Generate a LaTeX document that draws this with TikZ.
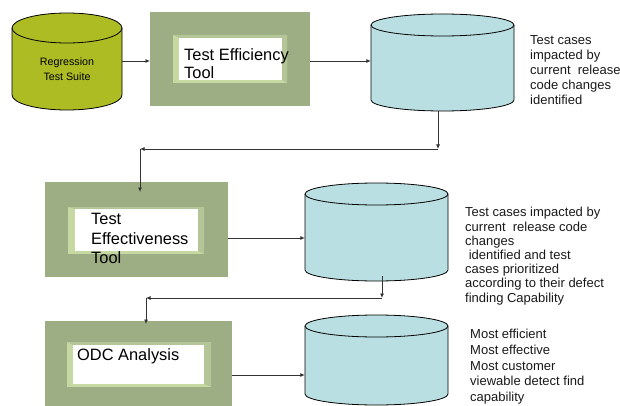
\documentclass[tikz,border=0pt]{standalone}
\usepackage{fontspec}
\setmainfont{Liberation Sans}
\usetikzlibrary{arrows.meta,calc}
\definecolor{olivecyl}{HTML}{AEBC24}
\definecolor{cyancyl}{HTML}{B9DFE3}
\definecolor{boxgreen}{HTML}{9EAE84}
\definecolor{bevlight}{HTML}{C6D9A3}
\definecolor{bevmid}{HTML}{B4C698}
\definecolor{linegray}{HTML}{333333}
\newcommand\mycyl[7]{%
  \pgfmathsetmacro\cylrx{(#3-#2)/2}%
  \pgfmathsetmacro\cylcx{(#3+#2)/2}%
  \pgfmathsetmacro\cylw{#3-#2}%
  \pgfmathsetmacro\cylh{#5-#4+2*#6}%
  \pgfmathsetmacro\cylcy{(#4+#5)/2}%
  \fill[#7] (#2,-#4) -- (#2,-#5) arc[start angle=180,end angle=360,x radius=\cylrx pt,y radius=#6pt] -- (#3,-#4) arc[start angle=0,end angle=180,x radius=\cylrx pt,y radius=#6pt] -- cycle;
  \draw[cylline] (#2,-#4) -- (#2,-#5) arc[start angle=180,end angle=360,x radius=\cylrx pt,y radius=#6pt] -- (#3,-#4);
  \draw[cylline,fill=#7] (\cylcx,-#4) ellipse[x radius=\cylrx pt,y radius=#6pt];
  \node[inner sep=0,minimum width=\cylw pt,minimum height=\cylh pt] (#1) at (\cylcx,-\cylcy) {};
}
\newcommand\mybevel[8]{%
  \fill[bevlight] (#1,-#2) rectangle (#3,-#4);
  \fill[bevmid] (#1,-#2) -- (#3,-#2) -- (#7,-#6) -- (#5,-#6) -- cycle;
  \fill[bevmid] (#3,-#2) -- (#3,-#4) -- (#7,-#8) -- (#7,-#6) -- cycle;
  \fill[white] (#5,-#6) rectangle (#7,-#8);
}
\tikzset{
  cylline/.style={draw=black,line width=0.8pt},
  outerbox/.style={fill=boxgreen,inner sep=0,anchor=north west},
  conn/.style={draw=linegray,line width=0.8pt,-{Latex[length=4.5pt,width=4pt]}},
  tooltext/.style={anchor=north west,inner sep=0,align=left,text=black},
  sidetext/.style={anchor=north west,inner sep=0,align=left,text=black!90},
}
\begin{document}
\begin{tikzpicture}[x=1pt,y=1pt]
\useasboundingbox (0,0) rectangle (620,-406);
% cylinders
\mycyl{c1}{12}{122}{28}{95}{15}{olivecyl}
\mycyl{c2}{371}{514}{25}{100}{11}{cyancyl}
\mycyl{c3}{305}{448}{194}{270}{11}{cyancyl}
\mycyl{c4}{305}{448}{326}{394}{11}{cyancyl}
\node[inner sep=0,align=center,anchor=north,font=\fontsize{10.7}{14.3}\selectfont] (t0) at (67,-58) {Regression\\Test Suite};
% boxes
\node[outerbox,minimum width=160pt,minimum height=94pt] (b1) at (150,-12) {};
\mybevel{173}{35}{287}{83}{179}{38}{282}{80}
\node[outerbox,minimum width=183pt,minimum height=95pt] (b2) at (45,-182) {};
\mybevel{68}{207}{204}{254}{75}{209}{198}{251}
\node[outerbox,minimum width=187pt,minimum height=90pt] (b3) at (45,-321) {};
\mybevel{67}{342}{211}{387}{73}{345}{204}{384}
\node[tooltext,font=\fontsize{16.4}{18.5}\selectfont] (t1) at (184,-48) {Test Efficiency\\Tool};
\node[tooltext,font=\fontsize{16.4}{19.5}\selectfont] (t2) at (91,-213.3) {Test\\Effectiveness\\Tool};
\node[tooltext,font=\fontsize{16.4}{19}\selectfont] (t3) at (77,-348.6) {ODC Analysis};
% side texts
\node[sidetext,font=\fontsize{13}{14.9}\selectfont] (s1) at (530,-35.7) {Test cases\\impacted by\\current\ \ release\\code changes\\identified};
\node[sidetext,font=\fontsize{13}{14.2}\selectfont] (s2) at (465,-207.2) {Test cases impacted by\\current\ \ release code\\changes\\\ identified and test\\cases prioritized\\according to their defect\\finding Capability};
\node[sidetext,font=\fontsize{13}{15.8}\selectfont] (s3) at (470,-328.8) {Most efficient\\Most effective\\Most customer\\viewable detect find\\capability};
% connectors
\coordinate (r1) at (0,-61);
\coordinate (r2) at (0,-238);
\coordinate (r3) at (0,-375);
\coordinate (k1) at (438,-149);
\coordinate (k2) at (140,-149);
\coordinate (k3) at (382,-298);
\coordinate (k4) at (146,-298);
\draw[conn] (c1.east |- r1) -- (b1.west |- r1);
\draw[conn] (b1.east |- r1) -- (c2.west |- r1);
\draw[conn] (c2.south -| k1) -- (k1);
\draw[conn] (k1) -- (k2);
\draw[conn] (k2) -- ($(b2.north -| k2)+(0,-10)$);
\draw[conn] (b2.east |- r2) -- (c3.west |- r2);
\draw[conn] ($(c3.south -| k3)+(0,5)$) -- (k3);
\draw[conn] (k3) -- (k4);
\draw[conn] (k4) -- ($(b3.north -| k4)+(0,-3)$);
\draw[conn] (b3.east |- r3) -- (c4.west |- r3);
\end{tikzpicture}
\end{document}
